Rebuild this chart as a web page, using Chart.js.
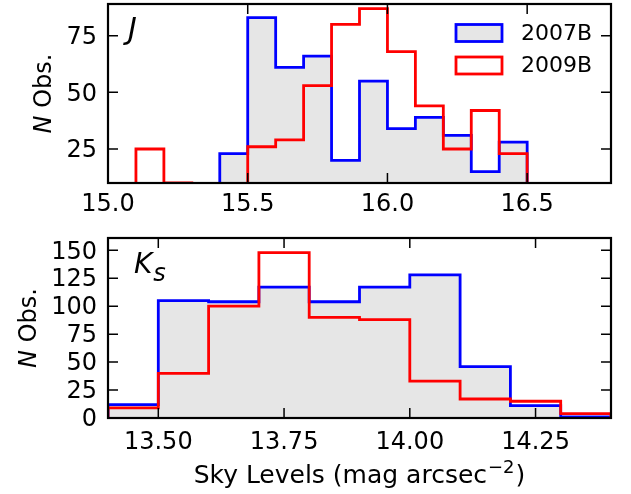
<!DOCTYPE html>
<html>
<head>
<meta charset="utf-8">
<script src="https://cdn.jsdelivr.net/npm/chart.js@4.4.1/dist/chart.umd.min.js"></script>
<style>
  html, body { margin: 0; padding: 0; background: #fff; }
  #wrap { position: relative; width: 631px; height: 494px; }
  #wrap canvas { position: absolute; left: 0; }
</style>
</head>
<body>
<div id="wrap">
  <canvas id="jChart" width="631" height="230" style="top:0px"></canvas>
  <canvas id="kChart" width="631" height="264" style="top:230px"></canvas>
</div>
<script>
// Sky-level histograms, bin width 0.1 mag arcsec^-2
const seriesNames = ['2007B', '2009B'];

// J band
const jEdges  = [15.0, 15.1, 15.2, 15.3, 15.4, 15.5, 15.6, 15.7, 15.8, 15.9, 16.0, 16.1, 16.2, 16.3, 16.4, 16.5];
const j2007B  = [0, 0, 0, 0, 23, 83, 61, 66, 20, 55, 34, 39, 31, 15, 28];
const j2009B  = [0, 25, 10, 0, 0, 26, 29, 53, 80, 87, 68, 44, 25, 42, 23];
const jTicksX = [15.0, 15.5, 16.0, 16.5];
const jTicksY = [25, 50, 75];

// Ks band
const kEdges  = [13.4, 13.5, 13.6, 13.7, 13.8, 13.9, 14.0, 14.1, 14.2, 14.3, 14.4];
const k2007B  = [12, 105, 104, 117, 104, 117, 128, 46, 11, 1];
const k2009B  = [9, 40, 100, 148, 90, 88, 33, 17, 15, 4];
const kTicksX = [13.5, 13.75, 14.0, 14.25];
const kTicksY = [0, 25, 50, 75, 100, 125, 150];

const FONT = "'DejaVu Sans', 'Liberation Sans', sans-serif";
const BLUE = '#0000ff';
const RED = '#ff0000';
const GREY = '#e6e6e6';

// outline of a step histogram: rise at first edge, flat tops, drop at last edge
function stepPoints(edges, counts) {
  const pts = [{ x: edges[0], y: 0 }];
  counts.forEach((c, i) => {
    pts.push({ x: edges[i], y: c });
    pts.push({ x: edges[i + 1], y: c });
  });
  pts.push({ x: edges[edges.length - 1], y: 0 });
  return pts;
}

// black frame on all four sides with inward tick marks
const frameTicks = {
  id: 'frameTicks',
  afterDraw(chart) {
    const { ctx, chartArea: a } = chart;
    const x = chart.scales.x, y = chart.scales.y;
    const len = 10;
    ctx.save();
    ctx.strokeStyle = '#000';
    ctx.lineWidth = 1.5;
    ctx.beginPath();
    x.ticks.forEach(t => {
      const px = x.getPixelForValue(t.value);
      ctx.moveTo(px, a.bottom); ctx.lineTo(px, a.bottom - len);
      ctx.moveTo(px, a.top);    ctx.lineTo(px, a.top + len);
    });
    y.ticks.forEach(t => {
      const py = y.getPixelForValue(t.value);
      ctx.moveTo(a.left, py);  ctx.lineTo(a.left + len, py);
      ctx.moveTo(a.right, py); ctx.lineTo(a.right - len, py);
    });
    ctx.stroke();
    ctx.lineWidth = 2.2;
    ctx.strokeRect(a.left, a.top, a.right - a.left, a.bottom - a.top);
    ctx.restore();
  }
};

// band label, y title, x title and legend
const decor = {
  id: 'decor',
  afterDraw(chart, args, o) {
    const { ctx, chartArea: a } = chart;
    ctx.save();
    ctx.fillStyle = '#000';
    ctx.textBaseline = 'alphabetic';
    ctx.textAlign = 'left';

    // band label
    ctx.font = `italic ${o.tagSize}px ${FONT}`;
    ctx.fillText(o.tag, o.tagX, o.tagY);
    if (o.sub) {
      const w = ctx.measureText(o.tag).width;
      ctx.font = `italic ${o.subSize}px ${FONT}`;
      ctx.fillText(o.sub, o.tagX + w + 1, o.tagY + o.subDrop);
    }

    // y title: italic N, upright "Obs."
    const cy = (a.top + a.bottom) / 2;
    ctx.translate(o.yTitleX, cy);
    ctx.rotate(-Math.PI / 2);
    ctx.font = `italic 24px ${FONT}`;
    const wN = ctx.measureText('N').width;
    ctx.font = `24px ${FONT}`;
    const wO = ctx.measureText(' Obs.').width;
    const x0 = -(wN + wO) / 2;
    ctx.font = `italic 24px ${FONT}`;
    ctx.fillText('N', x0, 0);
    ctx.font = `24px ${FONT}`;
    ctx.fillText(' Obs.', x0 + wN, 0);
    ctx.setTransform(1, 0, 0, 1, 0, 0);

    // x title with superscript
    if (o.xTitle) {
      const main = 'Sky Levels (mag arcsec';
      const sup = '\u22122';
      const tail = ')';
      ctx.font = `25px ${FONT}`;
      const wm = ctx.measureText(main).width;
      const wt = ctx.measureText(tail).width;
      ctx.font = `18px ${FONT}`;
      const ws = ctx.measureText(sup).width;
      let xs = (a.left + a.right) / 2 - (wm + ws + wt + 2) / 2;
      const by = o.xTitleY;
      ctx.font = `25px ${FONT}`;
      ctx.fillText(main, xs, by);
      ctx.font = `18px ${FONT}`;
      ctx.fillText(sup, xs + wm + 1, by - 10);
      ctx.font = `25px ${FONT}`;
      ctx.fillText(tail, xs + wm + ws + 2, by);
    }

    // legend
    if (o.legend) {
      const sets = [chart.data.datasets.find(d => d.label === seriesNames[0]),
                    chart.data.datasets.find(d => d.label === seriesNames[1])];
      const rows = [33, 65.5];
      sets.forEach((d, i) => {
        const yc = rows[i];
        ctx.fillStyle = d.fill ? d.backgroundColor : '#ffffff';
        ctx.fillRect(456, yc - 8.5, 46, 17);
        ctx.strokeStyle = d.borderColor;
        ctx.lineWidth = 2.8;
        ctx.strokeRect(456, yc - 8.5, 46, 17);
        ctx.fillStyle = '#000';
        ctx.font = `22px ${FONT}`;
        ctx.textBaseline = 'middle';
        ctx.fillText(d.label, 521, yc + 1);
      });
    }
    ctx.restore();
  }
};

function makeChart(id, cfg) {
  return new Chart(document.getElementById(id), {
    type: 'line',
    data: {
      datasets: [
        {
          label: seriesNames[0],
          data: stepPoints(cfg.edges, cfg.a),
          borderColor: BLUE,
          backgroundColor: GREY,
          borderWidth: 2.8,
          fill: 'start',
          pointRadius: 0,
          tension: 0,
          order: 1
        },
        {
          label: seriesNames[1],
          data: stepPoints(cfg.edges, cfg.b),
          borderColor: RED,
          backgroundColor: 'rgba(0,0,0,0)',
          borderWidth: 2.8,
          fill: false,
          pointRadius: 0,
          tension: 0,
          order: 0
        }
      ]
    },
    options: {
      responsive: false,
      animation: false,
      devicePixelRatio: 1,
      events: [],
      layout: { padding: { top: cfg.padTop, right: 20, left: 0, bottom: 0 } },
      plugins: {
        legend: { display: false },
        tooltip: { enabled: false },
        decor: cfg.decor
      },
      scales: {
        x: {
          type: 'linear',
          min: cfg.xMin,
          max: cfg.xMax,
          grid: { display: false, drawTicks: false },
          border: { display: false },
          afterBuildTicks: s => { s.ticks = cfg.ticksX.map(v => ({ value: v })); },
          afterFit: s => { s.height = cfg.xAxisH; s.paddingLeft = 0; s.paddingRight = 0; },
          ticks: {
            color: '#000',
            font: { family: FONT, size: 24 },
            padding: cfg.xPad,
            maxRotation: 0,
            autoSkip: false,
            callback: v => Number(v).toFixed(cfg.dec)
          }
        },
        y: {
          type: 'linear',
          min: cfg.yMin,
          max: cfg.yMax,
          grid: { display: false, drawTicks: false },
          border: { display: false },
          afterBuildTicks: s => { s.ticks = cfg.ticksY.map(v => ({ value: v })); },
          afterFit: s => { s.width = 108; s.paddingTop = 0; s.paddingBottom = 0; },
          ticks: {
            color: '#000',
            font: { family: FONT, size: 24 },
            padding: 11,
            labelOffset: 2,
            autoSkip: false,
            callback: v => String(v)
          }
        }
      }
    },
    plugins: [frameTicks, decor]
  });
}

makeChart('jChart', {
  edges: jEdges, a: j2007B, b: j2009B,
  ticksX: jTicksX, ticksY: jTicksY, dec: 1,
  xMin: 15.0, xMax: 16.8, yMin: 10, yMax: 89,
  padTop: 4, xAxisH: 47, xPad: 7,
  decor: { tag: 'J', sub: '', tagSize: 30, tagX: 128, tagY: 39, yTitleX: 51, xTitle: false, legend: true }
});

makeChart('kChart', {
  edges: kEdges, a: k2007B, b: k2009B,
  ticksX: kTicksX, ticksY: kTicksY, dec: 2,
  xMin: 13.4, xMax: 14.4, yMin: 0, yMax: 161,
  padTop: 8, xAxisH: 76, xPad: 10,
  decor: { tag: 'K', sub: 's', tagSize: 28, subSize: 24, subDrop: 8, tagX: 134, tagY: 43, yTitleX: 36, xTitle: true, xTitleY: 253, legend: false }
});
</script>
</body>
</html>
